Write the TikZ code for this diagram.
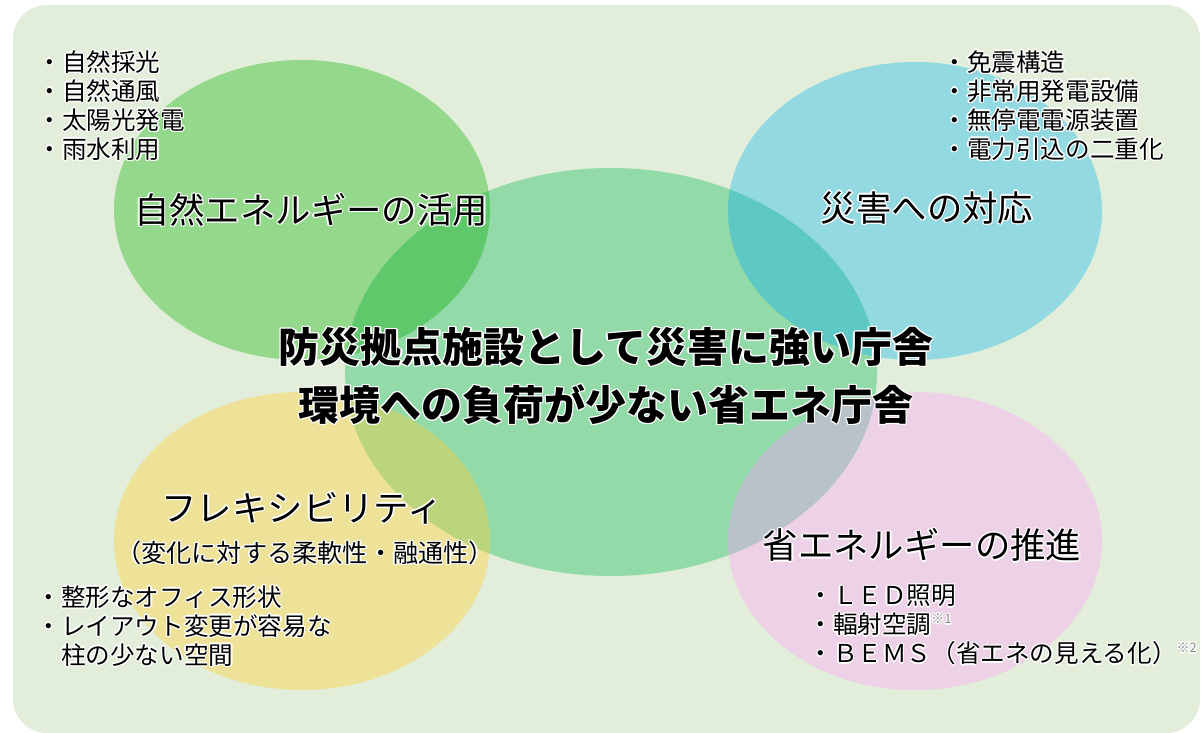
\documentclass[tikz,border=0pt]{standalone}
\usepackage{fontspec}
\setmainfont{Noto Sans CJK JP}
\definecolor{bg}{HTML}{E2EEDA}
\definecolor{cgreen}{HTML}{94D88C}
\definecolor{ccyan}{HTML}{92D9E2}
\definecolor{cmint}{HTML}{93DAA9}
\definecolor{cyellow}{HTML}{EDE298}
\definecolor{cpink}{HTML}{EDD1E7}
\definecolor{ogreen}{HTML}{5EC86B}
\definecolor{ocyan}{HTML}{5EC8C4}
\definecolor{oyellow}{HTML}{BCD47B}
\definecolor{opink}{HTML}{B9C1C9}
\definecolor{notegray}{HTML}{8A8A8A}
\newlength\hld \setlength\hld{0.7pt}
\newcommand\hlw[2]{\rlap{\kern#1\raise#2\hbox{\color{white}\copy0}}}
\newcommand\halo[1]{{\setbox0=\hbox{#1}\hlw{\hld}{0pt}\hlw{-\hld}{0pt}\hlw{0pt}{\hld}\hlw{0pt}{-\hld}\hlw{.7\hld}{.7\hld}\hlw{-.7\hld}{.7\hld}\hlw{.7\hld}{-.7\hld}\hlw{-.7\hld}{-.7\hld}\copy0}}
\newcommand\note[1]{{\color{notegray}\fontsize{6.5}{7}\selectfont\raisebox{0.75em}{\halo{#1}}}}
\tikzset{
  listtext/.style={font=\fontsize{12.3}{14.5}\selectfont, align=left, inner sep=0pt, anchor=west},
  labeltext/.style={font=\fontsize{17.7}{20}\selectfont, inner sep=0pt},
  maintext/.style={font=\bfseries\fontsize{20.5}{29}\selectfont, align=center, inner sep=0pt},
}
\begin{document}
\begin{tikzpicture}[x=0.5pt,y=-0.5pt]
\useasboundingbox (0,0) rectangle (1202,732);
\fill[bg, rounded corners=17pt] (13,5) rectangle (1200,733);
% circles
\fill[cgreen] (302,210) ellipse [x radius=188, y radius=150];
\fill[ccyan] (915,211) ellipse [x radius=187, y radius=149];
\fill[cyellow] (302,541) ellipse [x radius=188, y radius=149];
\fill[cpink] (915,541) ellipse [x radius=187, y radius=149];
\fill[cmint] (611,372) ellipse [x radius=266, y radius=204];
\begin{scope}
  \clip (611,372) ellipse [x radius=266, y radius=204];
  \fill[ogreen] (302,210) ellipse [x radius=188, y radius=150];
  \fill[ocyan] (915,211) ellipse [x radius=187, y radius=149];
  \fill[oyellow] (302,541) ellipse [x radius=188, y radius=149];
  \fill[opink] (915,541) ellipse [x radius=187, y radius=149];
\end{scope}
% lists
\node[listtext] (natlist) at (37,105.5) {\halo{・自然採光}\\\halo{・自然通風}\\\halo{・太陽光発電}\\\halo{・雨水利用}};
\node[listtext] (dislist) at (942,105.5) {\halo{・免震構造}\\\halo{・非常用発電設備}\\\halo{・無停電電源装置}\\\halo{・電力引込の二重化}};
\node[listtext] (flexlist) at (36,626) {\halo{・整形なオフィス形状}\\\halo{・レイアウト変更が容易な}\\\halo{\hphantom{・}柱の少ない空間}};
\node[listtext] (enelist) at (808,625) {\halo{・ＬＥＤ照明}\\\halo{・輻射空調}\note{※1}\\\halo{・ＢＥＭＳ（省エネの見える化）}\note{※2}};
% labels
\node[labeltext] (nat) at (311,210) {\halo{自然エネルギーの活用}};
\node[labeltext] (dis) at (927,208) {\halo{災害への対応}};
\node[labeltext] (flex) at (302,508) {\halo{フレキシビリティ}};
\node[inner sep=0pt, font=\fontsize{12.6}{14}\selectfont] (flexsub) at (305,553) {\halo{（変化に対する柔軟性・融通性）}};
\node[labeltext] (ene) at (922,545) {\halo{省エネルギーの推進}};
% main
\node[maintext] (main) at (606,376) {\halo{防災拠点施設として災害に強い庁舎}\\\halo{環境への負荷が少ない省エネ庁舎}};
\end{tikzpicture}
\end{document}
